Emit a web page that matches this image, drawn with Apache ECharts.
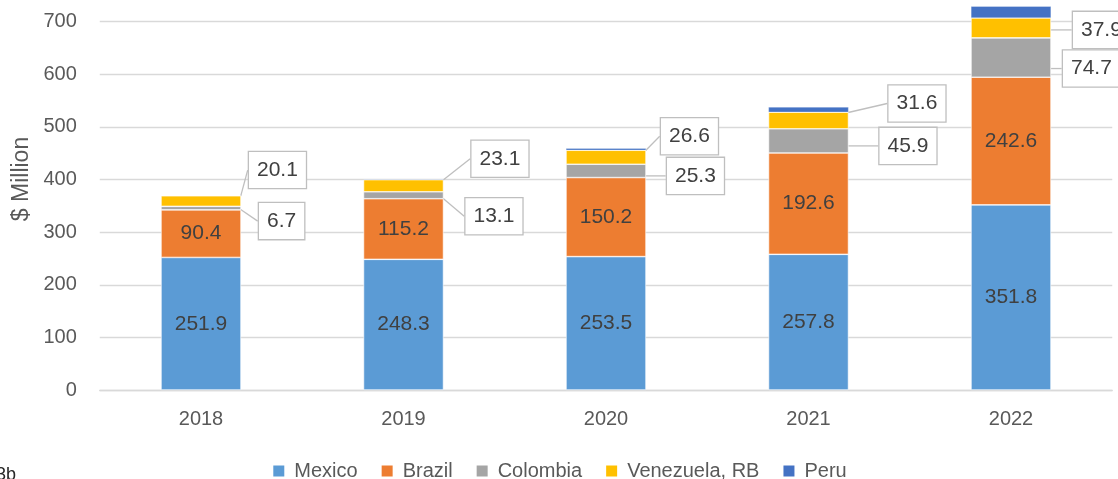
<!DOCTYPE html>
<html>
<head>
<meta charset="utf-8">
<script src="https://cdn.jsdelivr.net/npm/echarts@6/dist/echarts.min.js"></script>
<style>
html,body{margin:0;padding:0;background:#fff;}
#chart{width:1118px;height:479px;}
</style>
</head>
<body>
<div id="chart"></div>
<script>
const categories = ['2018', '2019', '2020', '2021', '2022'];
const mexico = [251.9, 248.3, 253.5, 257.8, 351.8];
const brazil = [90.4, 115.2, 150.2, 192.6, 242.6];
const colombia = [6.7, 13.1, 25.3, 45.9, 74.7];
const venezuela = [20.1, 23.1, 26.6, 31.6, 37.9];
const peru = [0.4, 1.2, 3.5, 9.8, 22.0];
const seriesNames = ['Mexico', 'Brazil', 'Colombia', 'Venezuela, RB', 'Peru'];
const yMin = 0, yMax = 800, yStep = 100;

// callout placement (pixel offsets from the segment's right edge / middle)
const colombiaCallout = [[18, 13], [22, 21], [21, 5], [31, 5], [12, 11]];
const venezuelaCallout = [[8, -31], [28, -27], [15, -21], [40, -17], [22, 2]];

const colors = ['#5B9BD5', '#ED7D31', '#A5A5A5', '#FFC000', '#4472C4'];
const font = 'Liberation Sans, Arial, sans-serif';

const chart = echarts.init(document.getElementById('chart'), null, {renderer: 'canvas'});

function insideLabel() {
  return {
    show: true, position: 'inside', fontSize: 21, color: '#404040', fontFamily: font,
    formatter: p => p.value.toFixed(1)
  };
}
function calloutSeries(name, data, color, offsets) {
  return {
    name: name, type: 'bar', stack: 'total', data: data, barWidth: '39.5%',
    itemStyle: {color: color, borderColor: '#ffffff', borderWidth: 0.6},
    label: {
      show: true, position: 'right', fontSize: 21, color: '#404040', fontFamily: font,
      backgroundColor: '#ffffff', borderColor: '#BFBFBF', borderWidth: 1.3,
      padding: [8, 8, 7, 8],
      formatter: p => p.value.toFixed(1)
    },
    labelLine: {show: true, lineStyle: {color: '#BFBFBF', width: 1.3}},
    labelLayout: function (params) {
      const o = offsets[params.dataIndex];
      const r = params.rect;
      return {
        x: r.x + r.width + o[0],
        y: r.y + r.height / 2 + o[1],
        align: 'left', verticalAlign: 'middle'
      };
    }
  };
}

const option = {
  animation: false,
  textStyle: {fontFamily: font},
  color: colors,
  grid: {left: 99.75, width: 1012.5, top: -31, height: 421, containLabel: false, outerBoundsMode: 'none'},
  legend: {
    data: seriesNames, left: 'center', top: 456,
    itemWidth: 13, itemHeight: 13, itemGap: 22, icon: 'rect',
    textStyle: {fontSize: 20, color: '#595959', fontFamily: font, padding: [0, 0, 0, 4]}
  },
  xAxis: {
    type: 'category', data: categories,
    axisLine: {show: true, lineStyle: {color: '#D9D9D9', width: 1.3}},
    axisTick: {show: false},
    axisLabel: {fontSize: 20, color: '#595959', margin: 19, fontFamily: font}
  },
  yAxis: {
    type: 'value', min: yMin, max: yMax, interval: yStep,
    axisLine: {show: false}, axisTick: {show: false},
    splitLine: {lineStyle: {color: '#D9D9D9', width: 1.3}},
    axisLabel: {fontSize: 20, color: '#595959', margin: 23, fontFamily: font}
  },
  graphic: [
    {type: 'text', x: 22, y: 179, rotation: Math.PI / 2,
     style: {text: '$ Million', fontSize: 23, fill: '#595959', fontFamily: font, align: 'center', verticalAlign: 'middle'}},
    {type: 'text', x: -4, y: 466,
     style: {text: '3b', fontSize: 18, fill: '#262626', fontFamily: font, align: 'left', verticalAlign: 'top'}}
  ],
  series: [
    {name: 'Mexico', type: 'bar', stack: 'total', data: mexico, barWidth: '39.5%',
     itemStyle: {color: colors[0], borderColor: '#ffffff', borderWidth: 0.6}, label: insideLabel()},
    {name: 'Brazil', type: 'bar', stack: 'total', data: brazil, barWidth: '39.5%',
     itemStyle: {color: colors[1], borderColor: '#ffffff', borderWidth: 0.6}, label: insideLabel()},
    calloutSeries('Colombia', colombia, colors[2], colombiaCallout),
    calloutSeries('Venezuela, RB', venezuela, colors[3], venezuelaCallout),
    {name: 'Peru', type: 'bar', stack: 'total', data: peru, barWidth: '39.5%',
     itemStyle: {color: colors[4], borderColor: '#ffffff', borderWidth: 0.3}}
  ]
};
chart.setOption(option);
</script>
</body>
</html>
